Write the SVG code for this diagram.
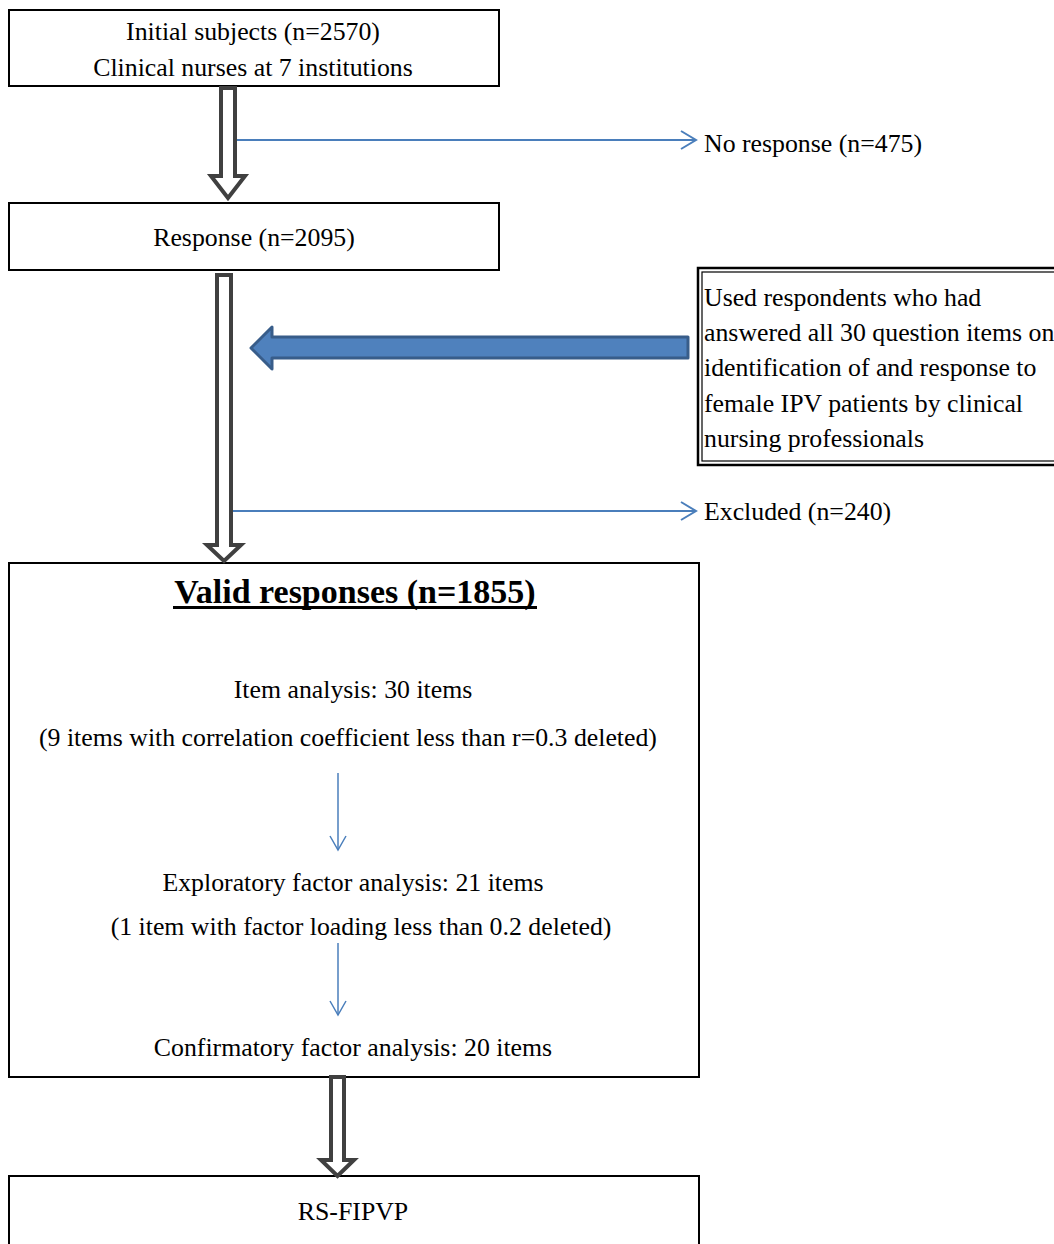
<svg xmlns="http://www.w3.org/2000/svg" width="1054" height="1244" viewBox="0 0 1054 1244">
<style>
text{font-family:"Liberation Serif","Times New Roman",serif;font-size:25.8px;fill:#000}
.c{text-anchor:middle}
.box{fill:#fff;stroke:#000;stroke-width:2}
.hollow{fill:#fff;stroke:#404040;stroke-width:4;stroke-linejoin:miter}
.thin{fill:none;stroke:#4a7ebb;stroke-width:2}
.thinv{fill:none;stroke:#4a7ebb;stroke-width:1.5}
</style>
<rect width="1054" height="1244" fill="#fff"/>
<g id="n1">
<rect class="box" x="9" y="10" width="490" height="76"/>
<text class="c" x="253" y="40">Initial subjects (n=2570)</text>
<text class="c" x="253" y="76">Clinical nurses at 7 institutions</text>
</g>
<g id="n2">
<rect class="box" x="9" y="203" width="490" height="67"/>
<text class="c" x="254" y="246">Response (n=2095)</text>
</g>
<g id="n3">
<text x="704" y="152">No response (n=475)</text>
</g>
<g id="n4">
<rect x="698" y="268" width="400" height="197" fill="#fff" stroke="#000" stroke-width="2.5"/>
<rect x="702" y="272" width="400" height="189" fill="none" stroke="#000" stroke-width="1.2"/>
<text x="704" y="306">Used respondents who had</text>
<text x="704" y="341">answered all 30 question items on</text>
<text x="704" y="376">identification of and response to</text>
<text x="704" y="412">female IPV patients by clinical</text>
<text x="704" y="447">nursing professionals</text>
</g>
<g id="n5">
<text x="704" y="520">Excluded (n=240)</text>
</g>
<g id="n6">
<rect class="box" x="9" y="563" width="690" height="514"/>
<text class="c" x="355" y="603" style="font-weight:bold;font-size:34px">Valid responses (n=1855)</text>
<rect x="173" y="606" width="364" height="3" fill="#000"/>
<text class="c" x="353" y="698">Item analysis: 30 items</text>
<text class="c" x="348" y="746">(9 items with correlation coefficient less than r=0.3 deleted)</text>
<text class="c" x="353" y="891">Exploratory factor analysis: 21 items</text>
<text class="c" x="361" y="935">(1 item with factor loading less than 0.2 deleted)</text>
<text class="c" x="353" y="1056">Confirmatory factor analysis: 20 items</text>
</g>
<g id="n7">
<rect class="box" x="9" y="1176" width="690" height="80"/>
<text class="c" x="353" y="1220">RS-FIPVP</text>
</g>
<g id="connectors">
<polygon class="hollow" points="221,88 235,88 235,176 245,176 228,198 211,176 221,176"/>
<polygon class="hollow" points="217,275 231,275 231,545 241,545 224,561 207,545 217,545"/>
<polygon class="hollow" points="331,1077 344,1077 344,1160 354,1160 337.5,1176 321,1160 331,1160"/>
<line class="thin" x1="237" y1="140" x2="695" y2="140"/>
<polyline class="thin" points="681,131 696,140 681,149"/>
<line class="thin" x1="233" y1="511" x2="695" y2="511"/>
<polyline class="thin" points="681,502 696,511 681,520"/>
<line class="thinv" x1="338" y1="773" x2="338" y2="850"/>
<polyline class="thinv" points="330,836 338,850 346,836"/>
<line class="thinv" x1="338" y1="943" x2="338" y2="1015"/>
<polyline class="thinv" points="330,1001 338,1015 346,1001"/>
<polygon points="251,348 272,327 272,337 688,337 688,358 272,358 272,369" fill="#4f81bd" stroke="#385d8a" stroke-width="3" stroke-linejoin="round"/>
</g>
</svg>
